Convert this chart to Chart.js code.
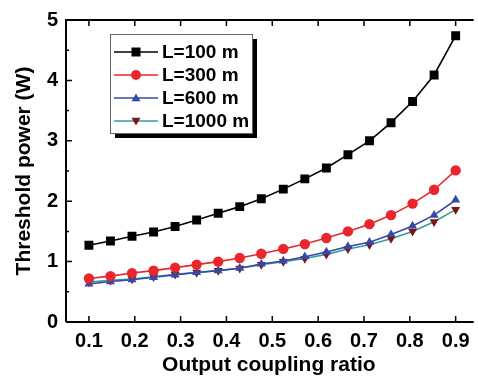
<!DOCTYPE html>
<html>
<head>
<meta charset="utf-8">
<script src="https://cdn.jsdelivr.net/npm/chart.js@4/dist/chart.umd.min.js"></script>
<style>
  html, body { margin: 0; padding: 0; background: #fff; }
  #wrap { width: 478px; height: 380px; }
</style>
</head>
<body>
<div id="wrap"><canvas id="chart" width="478" height="380"></canvas></div>
<script>
// output coupling ratio, 18 points from 0.1 to 0.9
const ratios = [0.1, 0.147, 0.194, 0.241, 0.288, 0.335, 0.382, 0.429, 0.476,
                0.524, 0.571, 0.618, 0.665, 0.712, 0.759, 0.806, 0.853, 0.9];
const xTicks = [0.1, 0.2, 0.3, 0.4, 0.5, 0.6, 0.7, 0.8, 0.9];
const yTicks = [0, 1, 2, 3, 4, 5];

const p100  = [1.27, 1.34, 1.42, 1.49, 1.58, 1.69, 1.80, 1.91, 2.04,
               2.20, 2.37, 2.55, 2.77, 3.00, 3.30, 3.65, 4.09, 4.74];
const p300  = [0.72, 0.76, 0.81, 0.85, 0.90, 0.95, 1.00, 1.06, 1.13,
               1.21, 1.29, 1.39, 1.50, 1.62, 1.77, 1.96, 2.19, 2.51];
const p600  = [0.63, 0.67, 0.70, 0.74, 0.78, 0.82, 0.85, 0.89, 0.96,
               1.01, 1.08, 1.16, 1.25, 1.32, 1.45, 1.59, 1.77, 2.02];
const p1000 = [0.66, 0.69, 0.71, 0.75, 0.79, 0.82, 0.85, 0.89, 0.95,
               1.00, 1.05, 1.12, 1.21, 1.28, 1.38, 1.50, 1.66, 1.86];

const seriesNames = ["L=100 m", "L=300 m", "L=600 m", "L=1000 m"];

const FONT = "'Liberation Sans', Arial, sans-serif";

function pts(vals) {
    return vals.map((v, i) => ({ x: ratios[i], y: v }));
}

/* frame, inward ticks and boxed legend */
const framePlugin = {
    id: "frame",
    afterDraw(chart) {
        const ctx = chart.ctx;
        const a = chart.chartArea;
        const xs = chart.scales.x, ys = chart.scales.y;
        ctx.save();
        ctx.strokeStyle = "#000";
        ctx.lineWidth = 2;
        ctx.beginPath();
        ctx.moveTo(a.left, a.bottom); ctx.lineTo(a.right + 2, a.bottom);
        ctx.moveTo(a.left, a.bottom); ctx.lineTo(a.left, a.top);
        ctx.lineTo(a.right + 2, a.top);
        ctx.stroke();

        ctx.lineWidth = 1.5;
        ctx.beginPath();
        xTicks.forEach(t => {
            const x = xs.getPixelForValue(t);
            ctx.moveTo(x, a.bottom); ctx.lineTo(x, a.bottom - 6);
            ctx.moveTo(x, a.top); ctx.lineTo(x, a.top + 6);
        });
        for (let v = 0; v <= 5; v += 0.5) {
            const y = ys.getPixelForValue(v);
            const len = Number.isInteger(v) ? 6 : 3;
            ctx.moveTo(a.left, y); ctx.lineTo(a.left + len, y);
        }
        ctx.stroke();

        // legend box with shadow
        const bx = 110, by = 34, bw = 142, bh = 99;
        ctx.fillStyle = "#000";
        ctx.fillRect(bx + 5, by + 5, bw, bh);
        ctx.fillStyle = "#fff";
        ctx.fillRect(bx, by, bw, bh);
        ctx.strokeStyle = "#666";
        ctx.lineWidth = 1;
        ctx.strokeRect(bx + 0.5, by + 0.5, bw, bh);

        ctx.font = "bold 19px " + FONT;
        ctx.textBaseline = "middle";
        chart.data.datasets.forEach((ds, i) => {
            const y = by + 18 + i * 23;
            ctx.strokeStyle = ds.borderColor;
            ctx.lineWidth = 1.5;
            ctx.beginPath();
            ctx.moveTo(bx + 4, y); ctx.lineTo(bx + 48, y);
            ctx.stroke();
            drawMarker(ctx, ds.pointStyle, bx + 26, y, 4.5, ds.pointBackgroundColor, ds.pointRotation || 0);
            ctx.fillStyle = "#000";
            ctx.fillText(seriesNames[i], bx + 52, y + 1);
        });
        ctx.restore();
    }
};

function drawMarker(ctx, style, x, y, r, color, rot) {
    ctx.save();
    ctx.fillStyle = color;
    ctx.beginPath();
    if (style === "rect") {
        ctx.rect(x - r, y - r, r * 2, r * 2);
    } else if (style === "circle") {
        ctx.arc(x, y, r + 0.5, 0, Math.PI * 2);
    } else {
        const s = rot ? 1 : -1;
        ctx.moveTo(x, y + s * r);
        ctx.lineTo(x - r, y - s * r * 0.7);
        ctx.lineTo(x + r, y - s * r * 0.7);
        ctx.closePath();
    }
    ctx.fill();
    ctx.restore();
}

new Chart(document.getElementById("chart"), {
    type: "line",
    data: {
        datasets: [
            { label: seriesNames[0], data: pts(p100), borderColor: "#000000",
              pointBackgroundColor: "#000000", pointBorderColor: "#000000",
              pointStyle: "rect", pointRadius: 6.3 },
            { label: seriesNames[1], data: pts(p300), borderColor: "#e8262b",
              pointBackgroundColor: "#e8262b", pointBorderColor: "#e8262b",
              pointStyle: "circle", pointRadius: 5.2 },
            { label: seriesNames[2], data: pts(p600), borderColor: "#3848a8",
              pointBackgroundColor: "#3848a8", pointBorderColor: "#3848a8",
              pointStyle: "triangle", pointRadius: 5.2 },
            { label: seriesNames[3], data: pts(p1000), borderColor: "#3c9a98",
              pointBackgroundColor: "#7a1618", pointBorderColor: "#7a1618",
              pointStyle: "triangle", pointRotation: 180, pointRadius: 5.2 }
        ]
    },
    options: {
        responsive: false,
        animation: false,
        layout: { padding: { top: 14, left: 0, right: 0, bottom: 0 } },
        elements: { line: { borderWidth: 1.6, tension: 0 }, point: { borderWidth: 0 } },
        plugins: { legend: { display: false }, tooltip: { enabled: false } },
        scales: {
            x: {
                type: "linear",
                min: 0.05, max: 0.935,
                afterBuildTicks: s => { s.ticks = xTicks.map(v => ({ value: v })); },
                afterFit: s => { s.height = 58; },
                grid: { display: false, drawTicks: false },
                border: { display: false },
                ticks: { padding: 7, color: "#000", font: { family: FONT, size: 20, weight: "bold" },
                         callback: v => v.toFixed(1) },
                title: { display: true, text: "Output coupling ratio", color: "#000",
                         font: { family: FONT, size: 21, weight: "bold" }, padding: { top: 0, bottom: 2 } }
            },
            y: {
                min: 0, max: 5,
                afterBuildTicks: s => { s.ticks = yTicks.map(v => ({ value: v })); },
                afterFit: s => { s.width = 66; },
                grid: { display: false, drawTicks: false },
                border: { display: false },
                ticks: { padding: 8, color: "#000", font: { family: FONT, size: 20, weight: "bold" } },
                title: { display: true, text: "Threshold power (W)", color: "#000",
                         font: { family: FONT, size: 21, weight: "bold" }, padding: { top: 12, bottom: 0 } }
            }
        }
    },
    plugins: [framePlugin]
});
</script>
</body>
</html>
